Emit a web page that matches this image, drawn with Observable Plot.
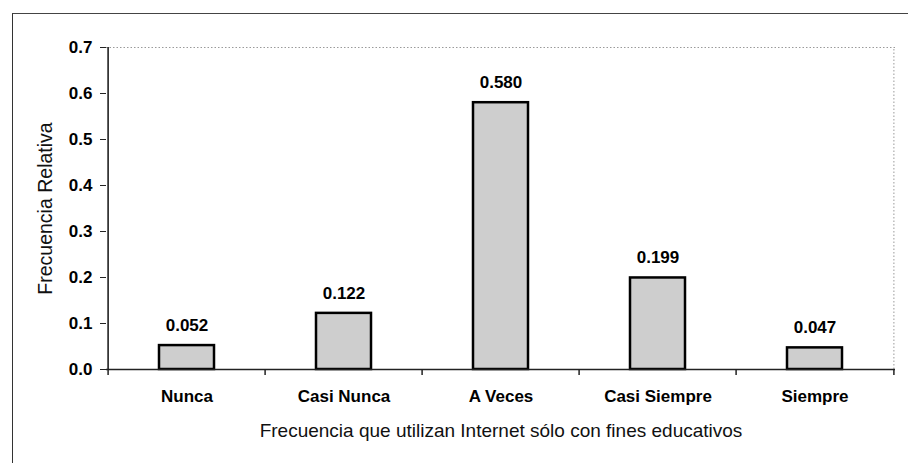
<!DOCTYPE html>
<html>
<head>
<meta charset="utf-8">
<script src="https://cdn.jsdelivr.net/npm/d3@7"></script>
<script src="https://cdn.jsdelivr.net/npm/@observablehq/plot@0.6"></script>
<style>
  html, body { margin: 0; padding: 0; background: #fff; }
  #wrap { position: relative; width: 908px; height: 463px; overflow: hidden; }
  #border { position: absolute; left: 12px; top: 13px; width: 920px; height: 480px;
            border-left: 1.5px solid #333; border-top: 1.5px solid #444; }
  #chart { position: absolute; left: 0; top: 0; }
</style>
</head>
<body>
<div id="wrap"><div id="border"></div><div id="chart"></div></div>
<script>
const categories = ["Nunca", "Casi Nunca", "A Veces", "Casi Siempre", "Siempre"];
const values = [0.052, 0.122, 0.580, 0.199, 0.047];
const yTicks = [0, 0.1, 0.2, 0.3, 0.4, 0.5, 0.6, 0.7];
const xTitle = "Frecuencia que utilizan Internet sólo con fines educativos";
const yTitle = "Frecuencia Relativa";

const data = categories.map((c, i) => ({category: c, value: values[i]}));

const W = 908, H = 463, mL = 106, mR = 13, mT = 47, mB = 94;
const step = (W - mL - mR) / categories.length;
const font = "'Liberation Sans', Arial, sans-serif";

const plot = Plot.plot({
  width: W, height: H,
  marginLeft: mL, marginRight: mR, marginTop: mT, marginBottom: mB,
  style: {fontFamily: font, color: "#000", background: "transparent", overflow: "visible"},
  x: {domain: categories, paddingInner: 0.65, paddingOuter: 0.325, label: null},
  y: {domain: [0, 0.7], label: null},
  marks: [
    Plot.ruleY([0.7], {stroke: "#9a9a9a", strokeWidth: 1, strokeDasharray: "1.5,2"}),
    Plot.ruleX([categories[categories.length - 1]], {dx: step / 2, y1: 0, y2: 0.7, stroke: "#9a9a9a", strokeWidth: 1, strokeDasharray: "1.5,2"}),
    Plot.barY(data, {x: "category", y: "value", fill: "#cecece", stroke: "#000", strokeWidth: 2.5}),
    Plot.text(data, {x: "category", y: "value", text: d => d3.format(".3f")(d.value), dy: -20, fontSize: 17, fontWeight: "bold", fill: "#000"}),
    Plot.ruleY([0], {stroke: "#222", strokeWidth: 1.5}),
    Plot.ruleX([categories[0]], {dx: -step / 2, y1: 0, y2: 0.7, stroke: "#111", strokeWidth: 1.5}),
    Plot.ruleX(categories, {dx: -step / 2, y1: 0, y2: 0, insetBottom: -6, stroke: "#222", strokeWidth: 1.5}),
    Plot.ruleX([categories[categories.length - 1]], {dx: step / 2, y1: 0, y2: 0, insetBottom: -6, stroke: "#222", strokeWidth: 1.5}),
    Plot.axisY({ticks: yTicks, tickFormat: d3.format(".1f"), tickSize: 6, tickPadding: 8, fontSize: 17, fontWeight: "bold", stroke: "#222", label: null}),
    Plot.axisX({tickSize: 0, tickPadding: 20, fontSize: 17, fontWeight: "bold", label: null}),
    Plot.text([xTitle], {frameAnchor: "bottom", dy: 61, text: d => d, fontSize: 19, lineAnchor: "middle", textAnchor: "middle", fill: "#111"}),
    Plot.text([yTitle], {frameAnchor: "left", dx: -61, rotate: -90, text: d => d, fontSize: 19.5, lineAnchor: "middle", textAnchor: "middle", fill: "#111"})
  ]
});
document.getElementById("chart").appendChild(plot);
</script>
</body>
</html>
